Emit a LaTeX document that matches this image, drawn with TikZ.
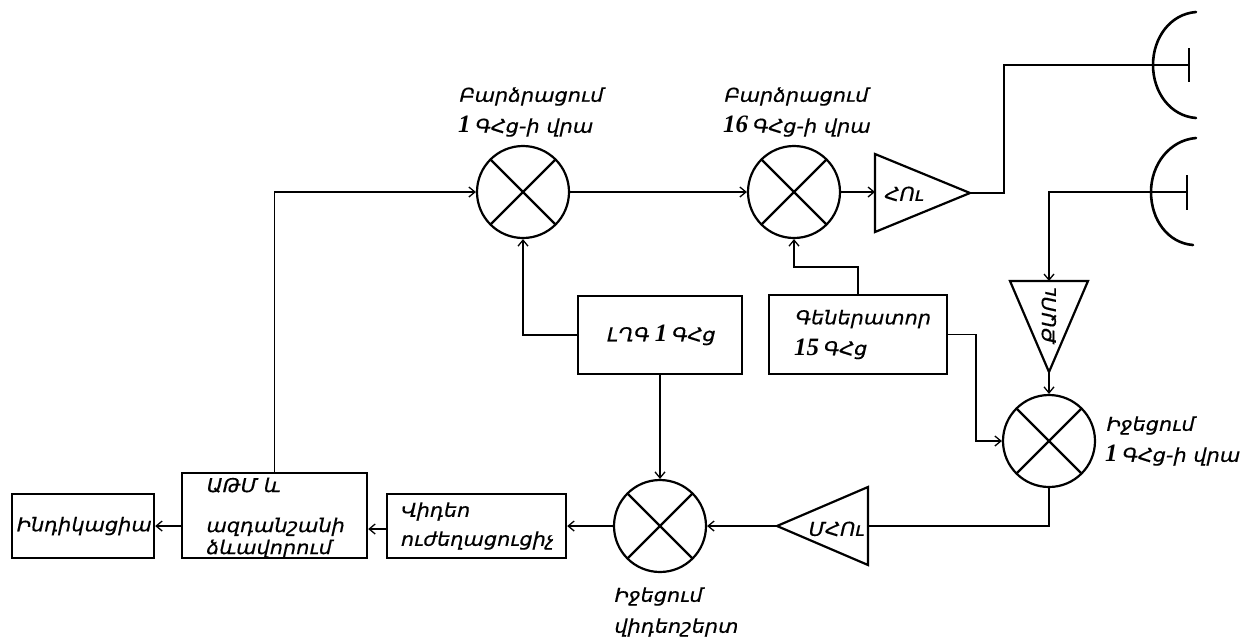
\documentclass[tikz,border=0pt]{standalone}
\usepackage{fontspec}
\usetikzlibrary{arrows.meta}
\newfontfamily\hy[FakeSlant=0.22,FakeStretch=1.1,FakeBold=0.5]{DejaVu Sans}
\newfontfamily\numf{Liberation Serif}
\newcommand{\nm}[1]{{\numf\bfseries\itshape\fontsize{25}{25}\selectfont #1}}
\tikzset{
  lbl/.style={inner sep=0pt,align=left,anchor=west,font=\hy\fontsize{19}{31}\selectfont},
  blk/.style={draw,line width=2.4pt,inner sep=0pt,align=left,font=\hy\fontsize{19}{31}\selectfont},
  mix/.style={draw,circle,line width=2.2pt,minimum size=92pt,inner sep=0pt,
    path picture={\draw[line width=2.2pt] (path picture bounding box.north west)--(path picture bounding box.south east)
      (path picture bounding box.north east)--(path picture bounding box.south west);}},
  amp/.style={draw,line width=2.2pt,line join=miter},
  wire/.style={line width=1.6pt},
  arr/.style={wire,-{Straight Barb[length=6pt,width=10pt,line width=1.3pt]}},
  dish/.style={line width=2.6pt,line cap=round},
  bar/.style={line width=1.5pt}
}
\begin{document}
\begin{tikzpicture}[x=1pt,y=-1pt]
\useasboundingbox (0,0) rectangle (1256,641);
% mixers
\node[mix] (m1) at (523,192) {};
\node[mix] (m2) at (794,192) {};
\node[mix] (m3) at (1049,441) {};
\node[mix] (m4) at (660,526) {};
% boxes
\node[blk,minimum width=164pt,minimum height=78pt] (lgg) at (660,335) {ԼՂԳ \nm{1}\,ԳՀց};
\node[blk,minimum width=178pt,minimum height=79pt] (gen) at (858,334.5) {\hspace*{8pt}Գեներատոր\\\hspace*{8pt}\nm{15}\,ԳՀց};
\node[blk,minimum width=185pt,minimum height=85pt] (atm) at (274.5,515.5) {\rule{0pt}{19pt}ԱԹՄ և\\[9pt]ազդանշանի\\[-9pt]ձևավորում};
\node[blk,minimum width=142pt,minimum height=64pt] (ind) at (83,526) {Ինդիկացիա};
\node[blk,minimum width=179pt,minimum height=64pt] (vid) at (476.5,526) {Վիդեո\\[-2pt]ուժեղացուցիչ};
% amplifiers
\coordinate (hua) at (875,154); \coordinate (hub) at (875,232); \coordinate (hut) at (970,193);
\coordinate (huin) at (875,192);
\draw[amp] (hua)--(hut)--(hub)--cycle;
\node[lbl] (hul) at (883,194) {ՀՈւ};
\coordinate (qua) at (1010,281); \coordinate (qub) at (1088,281); \coordinate (qut) at (1049,372);
\coordinate (quin) at (1049,281);
\draw[amp] (qua)--(qut)--(qub)--cycle;
\node[lbl,anchor=center,rotate=90] (qul) at (1049,317) {ՔԱՈւ};
\coordinate (mua) at (868,487); \coordinate (mub) at (868,565); \coordinate (mut) at (777,526);
\coordinate (muin) at (868,526);
\draw[amp] (mua)--(mut)--(mub)--cycle;
\node[lbl] (mul) at (807,529) {ՄՀՈւ};
% antennas
\coordinate (d1) at (1153,65); \coordinate (d1b) at (1189,65);
\coordinate (d2) at (1151,192); \coordinate (d2b) at (1187,192);
\draw[dish] (1196,12) .. controls (1170,14) and (1153,38) .. (d1) .. controls (1153,92) and (1170,116) .. (1196,118);
\draw[dish] (1196,138) .. controls (1170,140) and (1151,164) .. (d2) .. controls (1151,220) and (1168,243) .. (1193,245);
\draw[bar] (1189,48)--(1189,82);
\draw[bar] (1187,175)--(1187,210);
% wires
\draw[arr] (atm.north) |- (m1.west);
\draw[arr] (m1.east) -- (m2.west);
\draw[arr] (m2.east) -- (huin);
\draw[wire] (hut) -- (1004,193) -- (1004,65) -- (d1b);
\draw[arr] (d2b) -- (1049,192) -- (quin);
\draw[arr] (qut) -- (m3.north);
\draw[arr] (lgg.west) -| (m1.south);
\draw[arr] (gen.north) |- (794,267) -- (m2.south);
\draw[arr] (gen.east) -- ++(28,0) |- (m3.west);
\draw[arr] (lgg.south) -- (m4.north);
\draw[wire] (m3.south) |- (muin);
\draw[arr] (mut) -- (m4.east);
\draw[arr] (m4.west) -- (vid.east);
\draw[arr] (vid.west |- 0,529) -- (atm.east |- 0,529);
\draw[arr] (atm.west |- 0,526) -- (ind.east);
% labels
\node[lbl] (l1) at (458,112) {Բարձրացում\\\nm{1}\,ԳՀց-ի վրա};
\node[lbl] (l2) at (723,112) {Բարձրացում\\\nm{16}\,ԳՀց-ի վրա};
\node[lbl] (l3) at (1105,441) {Իջեցում\\\nm{1}\,ԳՀց-ի վրա};
\node[lbl] (l4) at (613,612) {Իջեցում\\վիդեոշերտ};
\end{tikzpicture}
\end{document}
